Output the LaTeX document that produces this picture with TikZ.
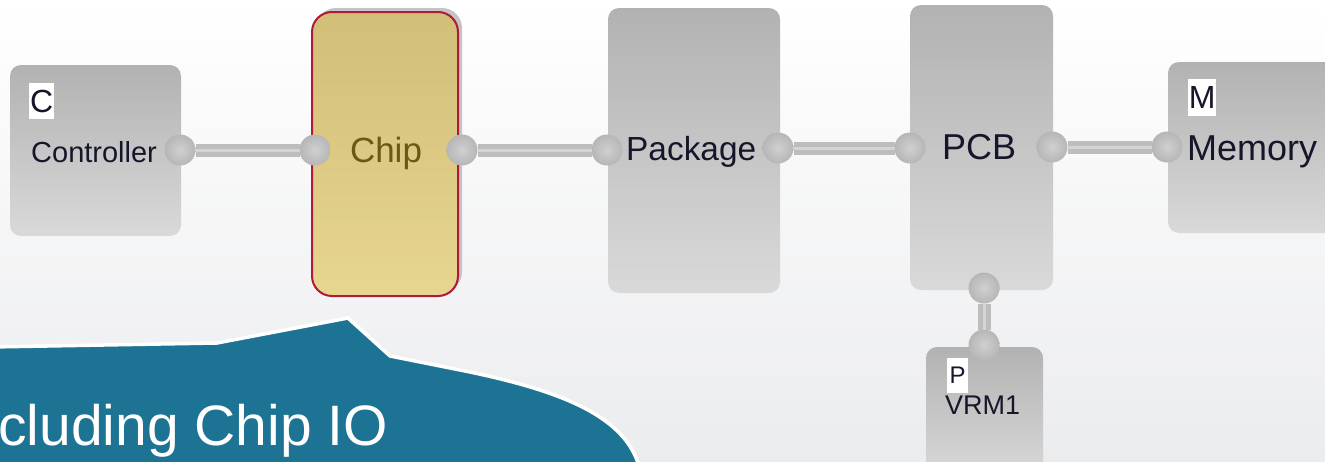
\documentclass[tikz,border=0pt]{standalone}
\usepackage{fontspec}
\setmainfont{Liberation Sans}
\definecolor{boxtop}{HTML}{B2B2B2}
\definecolor{boxbot}{HTML}{D9D9D9}
\definecolor{chiptop}{HTML}{D1BE77}
\definecolor{chipbot}{HTML}{E7D690}
\definecolor{chipedge}{HTML}{B0183C}
\definecolor{ink}{HTML}{16162A}
\definecolor{chipink}{HTML}{6B5716}
\definecolor{barout}{HTML}{BDBDBD}
\definecolor{barin}{HTML}{D4D4D4}
\definecolor{portin}{HTML}{D0D0D0}
\definecolor{portout}{HTML}{B6B6B6}
\definecolor{teal}{HTML}{1D7393}
\definecolor{bgbot}{HTML}{EBECEE}
\definecolor{shadowgray}{HTML}{C4C4C4}
\newcommand{\fs}[1]{\fontsize{#1}{#1}\selectfont}
\begin{document}
\begin{tikzpicture}[x=1pt,y=-1pt,
  box/.style={rectangle, rounded corners=11pt, inner sep=0pt, outer sep=0pt,
    top color=boxtop, bottom color=boxbot, anchor=north west},
  chipbox/.style={rectangle, rounded corners=20pt, inner sep=0pt, outer sep=0pt,
    top color=chiptop, bottom color=chipbot, draw=chipedge, line width=2pt, anchor=north west},
  port/.style={circle, minimum size=31pt, inner sep=0pt, outer sep=0pt,
    shading=radial, inner color=portin, outer color=portout},
  bar/.style={draw=barout, line width=5pt, double=barin, double distance=3pt},
  tag/.style={fill=white, inner sep=0pt, text=ink, anchor=north west},
  txt/.style={inner sep=0pt, text=ink, anchor=base west}]
\useasboundingbox (0,0) rectangle (1325,461);
\clip (0,0) rectangle (1325,461);
% page background
\shade[top color=white, bottom color=bgbot] (0,0) rectangle (1325,461);

% blocks
\node[box, minimum width=171pt, minimum height=171pt] (ctrl) at (10,65) {};
\fill[shadowgray, rounded corners=20pt] (316,8) rectangle (462,292);
\node[chipbox, minimum width=146pt, minimum height=284pt] (chip) at (312,12) {};
\node[box, minimum width=172pt, minimum height=285pt] (pkg) at (608,8) {};
\node[box, minimum width=143pt, minimum height=285pt] (pcb) at (910,5) {};
\node[box, minimum width=190pt, minimum height=171pt] (mem) at (1168,62) {};
\node[box, minimum width=117pt, minimum height=130pt] (vrm) at (926,347) {};

% ports
\node[port] (p1) at (180,150) {};
\node[port] (p2) at (315,150) {};
\node[port] (p3) at (462,150) {};
\node[port] (p4) at (607,150) {};
\node[port] (p5) at (778,148) {};
\node[port] (p6) at (910,148) {};
\node[port] (p7) at (1052,147) {};
\node[port] (p8) at (1167,147) {};
\node[port] (p9) at (984,288) {};
\node[port] (p10) at (984,345) {};

% links
\draw[bar] (p1) -- (p2);
\draw[bar] (p3) -- (p4);
\draw[bar] (p5) -- (p6);
\draw[bar] (p7) -- (p8);
\draw[bar] (p9) -- (p10);

% labels
\node[tag, minimum width=25pt, minimum height=36pt] (tc) at (29,83) {\fs{32}C};
\node[txt] (tctrl) at (31,162) {\fs{29}Controller};
\node[inner sep=0pt, text=chipink, anchor=base] (tchip) at (386,162) {\fs{35}Chip};
\node[txt] (tpkg) at (626,160) {\fs{33.4}Package};
\node[txt] (tpcb) at (942,159) {\fs{36}PCB};
\node[tag, minimum width=28pt, minimum height=37pt] (tm) at (1188,79) {\fs{32}M};
\node[txt] (tmem) at (1187,160) {\fs{36}Memory};
\node[tag, minimum width=21pt, minimum height=35pt] (tp) at (947,358) {\fs{24}P};
\node[txt] (tvrm) at (945,414) {\fs{27}VRM1};

% callout banner
\path[fill=teal, draw=white, line width=3.5pt, line join=miter]
  (-10,347) -- (217,343) -- (348,318) -- (390,356) -- (470,372)
  .. controls (565,392) and (628,418) .. (640,470) -- (-10,470) -- cycle;
\node[inner sep=0pt, text=white, anchor=base west] (tio) at (-2,445) {\fs{57}cluding Chip IO};
\end{tikzpicture}
\end{document}
